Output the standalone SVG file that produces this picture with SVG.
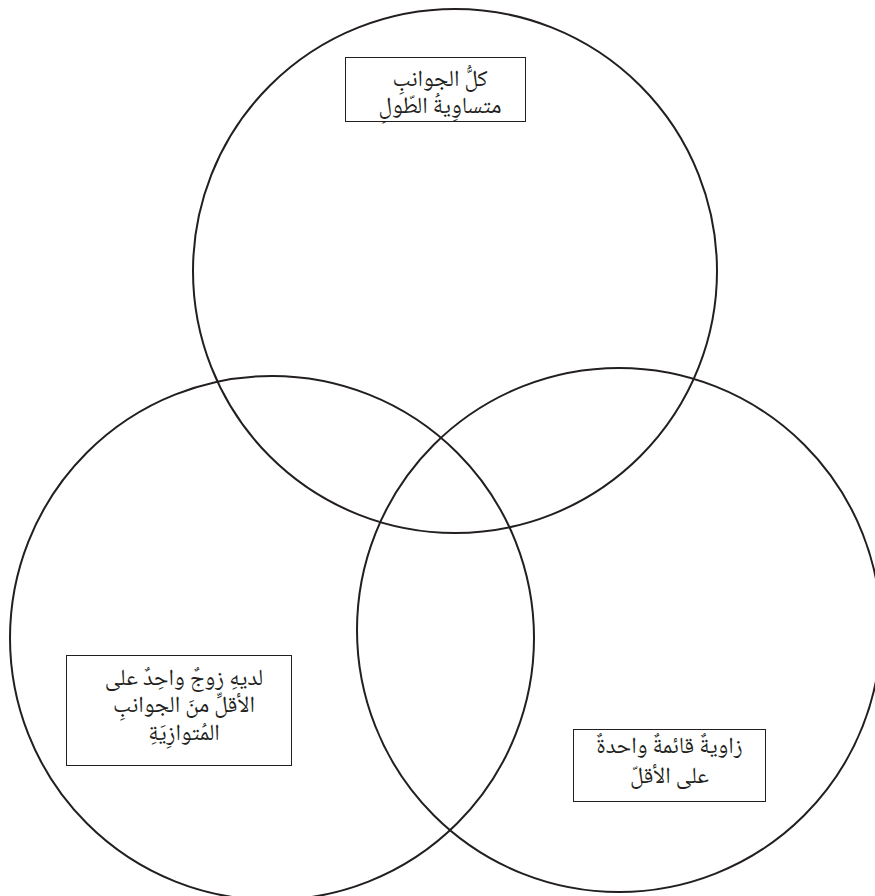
<svg xmlns="http://www.w3.org/2000/svg" width="875" height="896" viewBox="0 0 875 896">
<style>
.c{fill:none;stroke:#231f20;stroke-width:2}
.b{fill:#fff;stroke:#231f20;stroke-width:1}
.t{font-family:"Noto Naskh Arabic","Noto Sans Arabic","DejaVu Sans",sans-serif;font-size:23px;fill:#231f20;text-anchor:middle;direction:rtl}
</style>
<rect width="875" height="896" fill="#fff"/>
<g id="circles">
<g id="circle-top"><circle class="c" cx="455" cy="271" r="262"/></g>
<g id="circle-left"><circle class="c" cx="272" cy="638" r="262"/></g>
<g id="circle-right"><circle class="c" cx="619" cy="630" r="262"/></g>
</g>
<g id="label-top">
<rect class="b" x="345.5" y="57.5" width="180" height="64"/>
<text class="t" x="440" y="86">كلُّ الجوانبِ</text>
<text class="t" x="440" y="113">متساوِيةُ الطّولِ</text>
</g>
<g id="label-left">
<rect class="b" x="66.5" y="655.5" width="225" height="110"/>
<text class="t" x="184" y="685">لديهِ زوجٌ واحِدٌ على</text>
<text class="t" x="184" y="712">الأقلِّ منَ الجوانبِ</text>
<text class="t" x="184" y="740">المُتوازِيَةِ</text>
</g>
<g id="label-right">
<rect class="b" x="573.5" y="729.5" width="192" height="72"/>
<text class="t" x="669.5" y="753">زاويةٌ قائمةٌ واحدةٌ</text>
<text class="t" x="669.5" y="783">على الأقلّ</text>
</g>
</svg>
